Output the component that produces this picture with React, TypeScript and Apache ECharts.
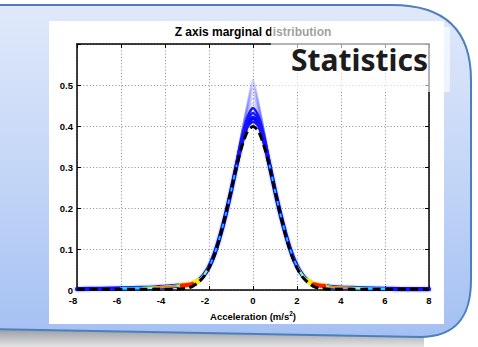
import React, { useEffect, useRef } from "react";
import * as echarts from "echarts";

// ---------- data ----------
const xs = [-8, -7, -6, -5, -4.5, -4, -3.5, -3.25, -3, -2.75, -2.5, -2.25, -2, -1.75, -1.5, -1.25, -1, -0.75, -0.5, -0.25, 0,
  0.25, 0.5, 0.75, 1, 1.25, 1.5, 1.75, 2, 2.25, 2.5, 2.75, 3, 3.25, 3.5, 4, 4.5, 5, 6, 7, 8];

// black dashed reference density
const normalRef = [0.002, 0.002, 0.002, 0.002, 0.002, 0.002, 0.002, 0.003, 0.004, 0.009, 0.018, 0.032, 0.054, 0.086, 0.130, 0.183, 0.242, 0.301, 0.352, 0.387, 0.399,
  0.387, 0.352, 0.301, 0.242, 0.183, 0.130, 0.086, 0.054, 0.032, 0.018, 0.009, 0.004, 0.003, 0.002, 0.002, 0.002, 0.002, 0.002, 0.002, 0.002];

// densest blue estimated curve
const mainCurve = [0.002, 0.003, 0.004, 0.005, 0.006, 0.008, 0.010, 0.011, 0.012, 0.015, 0.022, 0.035, 0.056, 0.088, 0.131, 0.182, 0.240, 0.303, 0.362, 0.404, 0.420,
  0.406, 0.364, 0.305, 0.242, 0.184, 0.133, 0.090, 0.058, 0.036, 0.022, 0.014, 0.011, 0.010, 0.008, 0.006, 0.005, 0.004, 0.003, 0.002, 0.002];

// other estimated curves differ near the peak only
const peakXs = [-0.75, -0.5, -0.25, 0, 0.25, 0.5, 0.75];
const denseVariants = [
  [0.300, 0.356, 0.398, 0.410, 0.400, 0.358, 0.302],
  [0.306, 0.368, 0.414, 0.432, 0.416, 0.370, 0.308],
  [0.308, 0.374, 0.422, 0.444, 0.424, 0.376, 0.310],
];
const faintVariants = [
  [0.310, 0.380, 0.430, 0.456, 0.432, 0.381, 0.311],
  [0.311, 0.382, 0.436, 0.468, 0.438, 0.383, 0.312],
  [0.312, 0.384, 0.442, 0.480, 0.444, 0.385, 0.313],
  [0.313, 0.386, 0.447, 0.492, 0.449, 0.387, 0.314],
  [0.314, 0.387, 0.452, 0.502, 0.454, 0.388, 0.315],
  [0.315, 0.388, 0.456, 0.512, 0.458, 0.389, 0.316],
];

const yTickLabels = ["0", "0.1", "0.2", "0.3", "0.4", "0.5"];
const titleText = "Z axis marginal distribution";
const xLabel = "Acceleration (m/s{sup|2})";
const badgeText = "Statistics";

// colour bands of the density map (jet colours) over x ranges of the main curve
const heatBands = [
  { from: -2.3, to: -0.7, color: "#10c8ff", width: 1.6 },
  { from: 0.7, to: 2.3, color: "#10c8ff", width: 1.6 },
  { from: -6.2, to: -2.2, color: "#20d8f0", width: 2.6 },
  { from: 2.2, to: 6.2, color: "#20d8f0", width: 2.6 },
  { from: -5.2, to: -2.0, color: "#9cff60", width: 2.2 },
  { from: 2.0, to: 5.2, color: "#9cff60", width: 2.2 },
  { from: -3.3, to: -2.45, color: "#ffe800", width: 5.5 },
  { from: 2.45, to: 3.3, color: "#ffe800", width: 5.5 },
  { from: -4.6, to: -3.4, color: "#ff7a00", width: 1.8 },
  { from: 3.4, to: 4.6, color: "#ff7a00", width: 1.8 },
  { from: -3.3, to: -2.7, color: "#ff1a00", width: 4 },
  { from: 2.7, to: 3.3, color: "#ff1a00", width: 4 },
];

const FONT = "Liberation Sans";

const panelPath = "M -20 5 L 392 5 C 445 5 471 30 471 80 L 471 280 C 471 318 455 337 420 337 L -20 329 Z";
echarts.graphic.registerShape("panelShape", echarts.graphic.extendPath(panelPath, {}));

function pairs(vals: number[]) {
  return xs.map((x, i) => [x, vals[i]]);
}
function withPeak(center: number[]) {
  return xs.map((x, i) => {
    const k = peakXs.indexOf(x);
    return [x, k >= 0 ? center[k] : mainCurve[i]];
  });
}
function segment(from: number, to: number) {
  return pairs(mainCurve).filter(([x]) => x >= from && x <= to);
}
function lineSeries(data: number[][], color: string, width: number, extra: any = {}) {
  return {
    type: "line",
    data,
    symbol: "none",
    showSymbol: false,
    smooth: 0.25,
    silent: true,
    xAxisIndex: 0,
    yAxisIndex: 0,
    lineStyle: { color, width, cap: "round", join: "round", ...extra },
  };
}

function buildOption() {
  const series: any[] = [];
  series.push(lineSeries(pairs(mainCurve), "rgba(80,80,255,0.12)", 7));
  faintVariants.forEach((v) => series.push(lineSeries(withPeak(v), "rgba(70,70,255,0.24)", 2)));
  series.push(lineSeries(pairs(mainCurve), "#0a0aff", 4.2));
  denseVariants.forEach((v) => series.push(lineSeries(withPeak(v), "#1414ff", 2.5)));
  heatBands.forEach((b) => series.push(lineSeries(segment(b.from, b.to), b.color, b.width)));
  series.push(lineSeries(pairs(normalRef), "#000", 3, { type: [8, 4.5], cap: "butt" }));

  const axisLine = { show: true, onZero: false, lineStyle: { color: "#000", width: 1.5 } };
  const axisTick = { show: true, inside: true, length: 4, lineStyle: { color: "#000", width: 1 } };
  const splitLine = { show: true, lineStyle: { color: "#808080", width: 0.9, type: [1, 2.2] } };
  const labelStyle = { fontFamily: FONT, fontWeight: "bold", fontSize: 9.5, color: "#000" };

  return {
    animation: false,
    backgroundColor: "#ffffff",
    grid: { left: 77, right: 49, top: 44, bottom: 57, containLabel: false },
    xAxis: [
      {
        type: "value", min: -8, max: 8, interval: 2, position: "bottom",
        axisLine, axisTick, splitLine,
        axisLabel: {
          ...labelStyle, margin: 5,
          formatter: (v: number) => (v < 0 ? `{n|${v}}` : `${v}`),
          rich: { n: { ...labelStyle, padding: [0, 8, 0, 0] } },
        },
        name: xLabel, nameLocation: "middle", nameGap: 17,
        nameTextStyle: {
          fontFamily: FONT, fontWeight: "bold", fontSize: 9.5, color: "#000", lineHeight: 13,
          rich: { sup: { fontFamily: FONT, fontWeight: "bold", fontSize: 6.5, color: "#000", verticalAlign: "top", lineHeight: 8 } },
        },
      },
      {
        type: "value", min: -8, max: 8, interval: 2, position: "top",
        axisLine, axisTick, splitLine: { show: false }, axisLabel: { show: false },
      },
    ],
    yAxis: [
      {
        type: "value", min: 0, max: 0.6, interval: 0.1, position: "left",
        axisLine, axisTick, splitLine,
        axisLabel: {
          ...labelStyle, margin: 4,
          formatter: (v: number) => yTickLabels[Math.round(v * 10)] ?? "",
        },
      },
      {
        type: "value", min: 0, max: 0.6, interval: 0.1, position: "right",
        axisLine, axisTick, splitLine: { show: false }, axisLabel: { show: false },
      },
    ],
    graphic: {
      elements: [
        {
          type: "rect", z: -12, silent: true,
          shape: { x: 0, y: 326, width: 424, height: 21 },
          style: {
            fill: new echarts.graphic.LinearGradient(0, 0, 0, 1, [
              { offset: 0, color: "#8c9198" },
              { offset: 1, color: "#e4e4e4" },
            ]),
          },
        },
        {
          type: "panelShape", x: 0, y: 0, z: -11, silent: true,
          style: {
            fill: new echarts.graphic.LinearGradient(0, 0, 0, 1, [
              { offset: 0, color: "#e0e9fb" },
              { offset: 0.5, color: "#c4d6f7" },
              { offset: 1, color: "#a4c0f2" },
            ]),
            stroke: "#4d7fbf",
            lineWidth: 2,
          },
        },
        {
          type: "rect", z: -10, silent: true,
          shape: { x: 49, y: 21, width: 395, height: 303 },
          style: { fill: "#ffffff" },
        },
        {
          type: "text", z: 50, silent: true, x: 253, y: 31.5,
          style: {
            text: titleText, fontFamily: FONT, fontWeight: "bold", fontSize: 12,
            fill: "#000", align: "center", verticalAlign: "middle",
          },
        },
        {
          type: "rect", z: 100, silent: true,
          shape: { x: 271, y: 27, width: 179, height: 65 },
          style: { fill: "rgba(255,255,255,0.62)" },
        },
        {
          type: "text", z: 101, silent: true, x: 428, y: 59.5,
          style: {
            text: badgeText, fontFamily: "Noto Sans", fontWeight: "bold", fontSize: 30,
            fill: "#1c1c1c", align: "right", verticalAlign: "middle",
          },
        },
      ],
    },
    series,
  };
}

export default function App() {
  const ref = useRef<HTMLDivElement>(null);
  useEffect(() => {
    if (!ref.current) return;
    const chart = echarts.init(ref.current, null, { renderer: "svg" });
    chart.setOption(buildOption() as any);
    return () => chart.dispose();
  }, []);
  return (
    <div
      ref={ref}
      style={{ position: "fixed", left: 0, top: 0, width: 478, height: 347 }}
    />
  );
}
